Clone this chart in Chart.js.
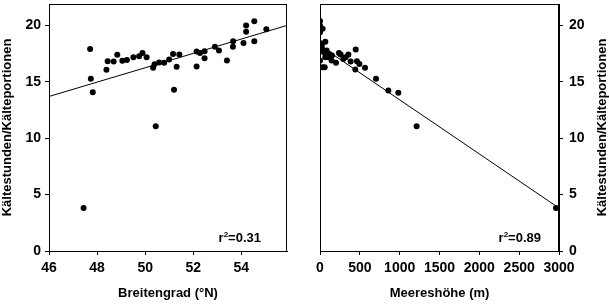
<!DOCTYPE html>
<html>
<head>
<meta charset="utf-8">
<script src="https://cdn.jsdelivr.net/npm/chart.js@4.4.0/dist/chart.umd.min.js"></script>
<style>
  html, body { margin: 0; padding: 0; background: #fff; }
  #wrap { position: relative; width: 609px; height: 305px; }
  .panel { position: absolute; top: 0; height: 305px; }
  #left { left: 0; width: 300px; }
  #right { left: 300px; width: 309px; }
</style>
</head>
<body>
<div id="wrap">
  <div class="panel" id="left"><canvas id="LatChart"></canvas></div>
  <div class="panel" id="right"><canvas id="AltChart"></canvas></div>
</div>
<script>
const yTitle = 'Kältestunden/Kälteportionen';
const latTitle = 'Breitengrad (°N)';
const altTitle = 'Meereshöhe (m)';

// left panel: latitude vs chill value
const latX = [47.71, 47.74, 47.82, 47.44, 48.39, 48.44, 48.69, 48.84, 49.05, 49.24,
              49.51, 49.75, 49.89, 50.06, 50.33, 50.39, 50.58, 50.44, 50.79, 51.0,
              51.16, 51.2, 51.31, 51.42, 52.14, 52.14, 52.28, 52.47, 52.47, 52.9,
              53.07, 53.4, 53.65, 53.66, 54.09, 54.2, 54.2, 54.54, 54.54, 55.04];
const latY = [17.9, 15.27, 14.07, 3.81, 16.06, 16.83, 16.8, 17.39, 16.86, 16.94,
              17.18, 17.27, 17.56, 17.18, 16.24, 16.56, 16.71, 11.07, 16.68, 16.97,
              17.47, 14.3, 16.33, 17.42, 16.36, 17.68, 17.56, 17.71, 17.09, 18.12,
              17.77, 16.89, 18.12, 18.59, 18.44, 19.44, 20.0, 20.38, 18.59, 19.67];
const latFitX = [46, 55.9];
const latFitY = [13.7, 20.0];
const latTicks = [46, 48, 50, 52, 54];

// right panel: altitude vs chill value
const altX = [0, 0, 13, 33, 0, 0, 25, 67, 0, 25,
              50, 84, 0, 33, 59, 67, 105, 117, 146, 151,
              201, 238, 259, 293, 322, 356, 385, 448, 443, 464,
              494, 565, 703, 858, 983, 1213, 2962];
const altY = [20.4, 20.0, 19.7, 19.7, 19.4, 18.44, 18.35, 18.56, 17.77, 18.0,
              17.6, 17.77, 16.89, 16.3, 16.3, 17.18, 17.18, 17.47, 16.89, 17.33,
              16.68, 17.56, 17.42, 17.03, 17.18, 17.42, 16.8, 17.86, 16.1, 16.83,
              16.59, 16.24, 15.27, 14.24, 14.04, 11.07, 3.81];
const altFitX = [0, 2960];
const altFitY = [18.2, 4.0];
const altTicks = [0, 500, 1000, 1500, 2000, 2500, 3000];

const yTicks = [0, 5, 10, 15, 20];

const FAMILY = 'Arial, "Liberation Sans", sans-serif';
const TITLE_FONT = { family: FAMILY, size: 13, weight: 'bold' };
const TICK_FONT = { family: FAMILY, size: 14, weight: 'bold' };
Chart.defaults.font.family = FAMILY;
Chart.defaults.color = '#000';

function toPoints(xs, ys) {
  return xs.map((x, i) => ({ x: x, y: ys[i] }));
}

// frame round the plot area
const boxPlugin = {
  id: 'box',
  afterDraw(chart) {
    const a = chart.chartArea, ctx = chart.ctx;
    ctx.save();
    ctx.strokeStyle = '#000';
    ctx.lineWidth = 1;
    ctx.strokeRect(a.left + 0.5, a.top + 0.5, a.right - a.left - 1, a.bottom - a.top);
    ctx.restore();
  }
};

// r^2 note in the lower right corner
const rsqPlugin = {
  id: 'rsq',
  afterDraw(chart, args, opts) {
    if (!opts.text) return;
    const a = chart.chartArea, ctx = chart.ctx;
    const big = 'bold 13px ' + FAMILY, small = 'bold 8px ' + FAMILY;
    ctx.save();
    ctx.fillStyle = '#000';
    ctx.textBaseline = 'alphabetic';
    ctx.font = big;
    const wR = ctx.measureText('r').width;
    const wRest = ctx.measureText('=' + opts.text).width;
    ctx.font = small;
    const w2 = ctx.measureText('2').width;
    let x = a.right - opts.right - (wR + w2 + wRest);
    const y = a.bottom - opts.bottom;
    ctx.font = big;
    ctx.fillText('r', x, y);
    ctx.font = small;
    ctx.fillText('2', x + wR, y - 5);
    ctx.font = big;
    ctx.fillText('=' + opts.text, x + wR + w2, y);
    ctx.restore();
  }
};

// y title on the right, reading bottom to top
const rightTitlePlugin = {
  id: 'rightTitle',
  afterDraw(chart, args, opts) {
    if (!opts.text) return;
    const a = chart.chartArea, ctx = chart.ctx;
    ctx.save();
    ctx.font = 'bold 13px ' + FAMILY;
    ctx.fillStyle = '#000';
    ctx.textAlign = 'center';
    ctx.textBaseline = 'middle';
    ctx.translate(chart.width - 7, (a.top + a.bottom) / 2);
    ctx.rotate(-Math.PI / 2);
    ctx.fillText(opts.text, 0, 0);
    ctx.restore();
  }
};

function axis(extra, tickPadding) {
  return Object.assign({
    type: 'linear',
    grid: { drawOnChartArea: false, drawTicks: true, tickLength: 4, color: '#000' },
    border: { display: true, color: '#000', width: 1 },
    ticks: {
      color: '#000',
      font: TICK_FONT,
      padding: tickPadding,
      callback: function (value) { return String(value); },
    },
  }, extra);
}

function datasets(xs, ys, fx, fy) {
  return [
    {
      type: 'line',
      data: toPoints(fx, fy),
      borderColor: '#000',
      borderWidth: 1,
      pointRadius: 0,
      fill: false,
    },
    {
      type: 'scatter',
      data: toPoints(xs, ys),
      backgroundColor: '#000',
      borderColor: '#000',
      pointRadius: 3,
      borderWidth: 0,
    },
  ];
}

// keep the plot area where the reference has it
function fixWidth(w) {
  return s => { s.width = w; s.paddingTop = 0; s.paddingBottom = 0; };
}
function fixHeight(h) {
  return s => { s.height = h; };
}

let LatCtx = document.getElementById('LatChart').getContext('2d');
const LatChart = new Chart(LatCtx, {
  type: 'scatter',
  data: { datasets: datasets(latX, latY, latFitX, latFitY) },
  plugins: [boxPlugin, rsqPlugin],
  options: {
    responsive: true,
    maintainAspectRatio: false,
    animation: false,
    layout: { padding: { top: 1, right: 13, left: 0, bottom: 0 } },
    plugins: {
      legend: { display: false },
      tooltip: { enabled: false },
      rsq: { text: '0.31', right: 26, bottom: 9 },
    },
    scales: {
      x: axis({
        min: 46, max: 55.9,
        afterBuildTicks: s => { s.ticks = latTicks.map(v => ({ value: v })); },
        afterFit: fixHeight(54),
        title: { display: true, text: latTitle, font: TITLE_FONT, color: '#000', padding: { top: 0, bottom: 4 } },
      }, 5),
      y: axis({
        min: 0, max: 21.9,
        afterBuildTicks: s => { s.ticks = yTicks.map(v => ({ value: v })); },
        afterFit: fixWidth(49),
        title: { display: true, text: yTitle, font: TITLE_FONT, color: '#000', padding: 0 },
      }, 4),
    },
  },
});

let AltCtx = document.getElementById('AltChart').getContext('2d');
const AltChart = new Chart(AltCtx, {
  type: 'scatter',
  data: { datasets: datasets(altX, altY, altFitX, altFitY) },
  plugins: [boxPlugin, rsqPlugin, rightTitlePlugin],
  options: {
    responsive: true,
    maintainAspectRatio: false,
    animation: false,
    layout: { padding: { top: 1, right: 0, left: 20, bottom: 0 } },
    plugins: {
      legend: { display: false },
      tooltip: { enabled: false },
      rsq: { text: '0.89', right: 18, bottom: 9 },
      rightTitle: { text: yTitle },
    },
    scales: {
      x: axis({
        min: 0, max: 3000,
        afterBuildTicks: s => { s.ticks = altTicks.map(v => ({ value: v })); },
        afterFit: fixHeight(54),
        title: { display: true, text: altTitle, font: TITLE_FONT, color: '#000', padding: { top: 0, bottom: 4 } },
      }, 5),
      y: axis({
        position: 'right',
        min: 0, max: 21.9,
        afterBuildTicks: s => { s.ticks = yTicks.map(v => ({ value: v })); },
        afterFit: fixWidth(50),
      }, 6),
    },
  },
});
</script>
</body>
</html>
